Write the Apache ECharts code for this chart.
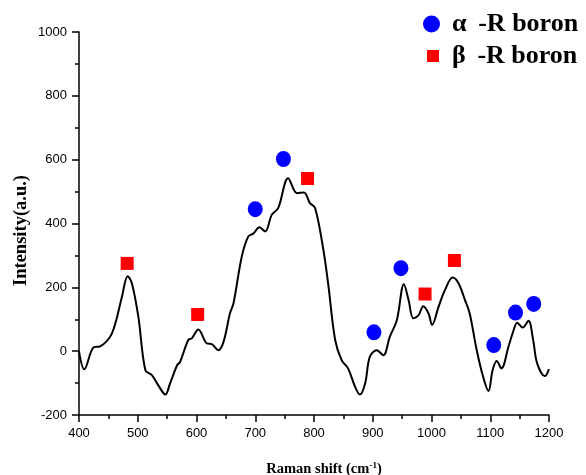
<!DOCTYPE html>
<html><head><meta charset="utf-8">
<script src="https://cdn.jsdelivr.net/npm/echarts@6/dist/echarts.min.js"></script>
<style>html,body{margin:0;padding:0;background:#fff}#c{width:586px;height:475px}</style>
</head><body><div id="c"></div>
<script>
var ramanX = [400,409,425,436,453,462,473,483,490,501,513,524,535,547,555,567,572,586,592,603,618,626,637,646,657,663,677,688,697,707,717,728,739,756,771,783,793,802,816,824,836,847,858,870,878,887,895,907,918,929,941,953,961,969,978,986,995,1001,1012,1023,1036,1046,1057,1065,1077,1088,1097,1104,1111,1119,1131,1139,1146,1155,1165,1173,1180,1193,1200];
var intensity = [0,-57,12,15,45,88,170,235,213,108,-60,-75,-107,-136,-101,-44,-34,35,40,68,24,22,3,29,119,150,296,359,369,388,375,427,448,542,495,497,464,448,317,213,35,-28,-54,-112,-136,-101,-18,3,-13,45,97,210,160,103,113,141,118,82,139,192,231,213,160,118,3,-81,-125,-60,-31,-54,14,61,89,74,95,35,-39,-78,-56];
var alphaX = [700,748,902,948,1106,1143,1174];
var alphaY = [445,602,59,260,19,121,148];
var betaX = [482,602,789,989,1039];
var betaY = [275,115,541,179,284];
var alphaName = 'α \u2009-R boron';
var betaName = 'β \u2009-R boron';

function pairs(a,b){return a.map(function(v,i){return [v,b[i]];});}
var legText = {fontFamily:'Liberation Serif',fontWeight:'bold',fontSize:26,lineHeight:28,color:'#000'};
var chart = echarts.init(document.getElementById('c'));
chart.setOption({
  animation:false,
  grid:{left:79,right:37,top:32,bottom:60,containLabel:false,outerBoundsMode:'none'},
  legend:[
    {left:423,top:10,itemWidth:17,itemHeight:17,padding:0,
      textStyle:Object.assign({padding:[0,0,0,7]},legText),data:[alphaName]},
    {left:427,top:42,itemWidth:12,itemHeight:12,padding:0,
      textStyle:Object.assign({padding:[0,0,0,8]},legText),data:[betaName]}
  ],
  xAxis:{type:'value',min:400,max:1200,interval:100,
    name:'Raman shift (cm{sup|-1})',nameLocation:'middle',nameGap:46,nameMoveOverlap:false,
    nameTextStyle:{fontFamily:'Liberation Serif',fontWeight:'bold',fontSize:14.5,color:'#000',padding:[0,0,0,20],
      rich:{sup:{fontFamily:'Liberation Serif',fontWeight:'bold',fontSize:9,verticalAlign:'top',padding:[0,0,7,0]}}},
    axisLine:{onZero:false,lineStyle:{color:'#000',width:1.5}},
    axisTick:{inside:false,length:7,lineStyle:{color:'#000',width:1.5}},
    minorTick:{show:true,splitNumber:2,length:4,lineStyle:{color:'#000',width:1.5}},
    splitLine:{show:false},
    axisLabel:{fontFamily:'Liberation Sans',fontSize:13,color:'#000',margin:12,formatter:function(v){return String(v);}}},
  yAxis:{type:'value',min:-200,max:1000,interval:200,
    name:'Intensity(a.u.)',nameLocation:'middle',nameGap:48,nameMoveOverlap:false,
    nameTextStyle:{fontFamily:'Liberation Serif',fontWeight:'bold',fontSize:18.5,color:'#000',padding:[0,14,0,0]},
    axisLine:{show:true,onZero:false,lineStyle:{color:'#000',width:1.5}},
    axisTick:{show:true,inside:false,length:7,lineStyle:{color:'#000',width:1.5}},
    minorTick:{show:true,splitNumber:2,length:4,lineStyle:{color:'#000',width:1.5}},
    splitLine:{show:false},
    axisLabel:{fontFamily:'Liberation Sans',fontSize:13,color:'#000',margin:12,formatter:function(v){return String(v);}}},
  series:[
    {type:'line',data:pairs(ramanX,intensity),smooth:0.35,symbol:'none',
      lineStyle:{color:'#000',width:2},z:2},
    {name:alphaName,type:'scatter',data:pairs(alphaX,alphaY),symbol:'circle',symbolSize:[15,16],
      itemStyle:{color:'#0000ff',opacity:1},z:3},
    {name:betaName,type:'scatter',data:pairs(betaX,betaY),symbol:'rect',symbolSize:13,
      itemStyle:{color:'#ff0000',opacity:1},z:3}
  ]
});
</script></body></html>
